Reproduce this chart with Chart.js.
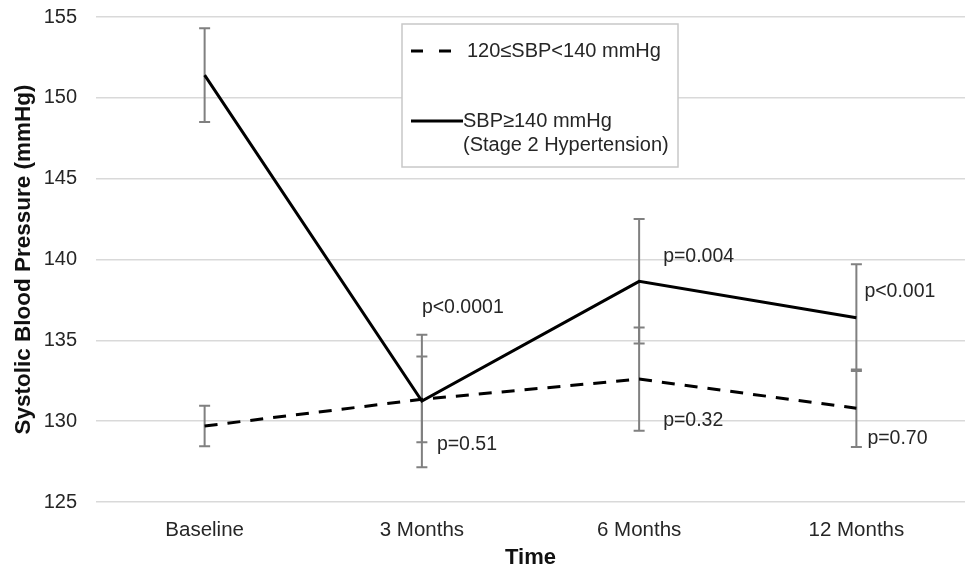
<!DOCTYPE html>
<html>
<head>
<meta charset="utf-8">
<script src="https://cdn.jsdelivr.net/npm/chart.js@4"></script>
<style>
html,body{margin:0;padding:0;background:#fff;}
#wrap{width:967px;height:571px;}
</style>
</head>
<body>
<div id="wrap"><canvas id="c" width="967" height="571"></canvas></div>
<script>
// ---- data ----
const categories = ['Baseline', '3 Months', '6 Months', '12 Months'];
const prehypLabel = '120≤SBP<140 mmHg';
const stage2Label = ['SBP≥140 mmHg', '(Stage 2 Hypertension)'];
const prehypValues = [129.7, 131.35, 132.6, 130.8];
const prehypErr = [1.25, 2.65, 3.2, 2.4];
const stage2Values = [151.4, 131.25, 138.65, 136.4];
const stage2Err = [2.9, 4.1, 3.85, 3.3];
const yTicks = [125, 130, 135, 140, 145, 150, 155];
const pTexts = ['p<0.0001', 'p=0.51', 'p=0.004', 'p=0.32', 'p<0.001', 'p=0.70'];
const pCategory = [1, 1, 2, 2, 3, 3];
const pValueY = [137.05, 128.55, 140.15, 130.05, 138.0, 128.95];

// ---- layout / style (not data) ----
const pOffsetX = [0, 15, 24, 24, 8, 11];
const FONT = "'Liberation Sans', Arial, sans-serif";
const TEXT = '#262626';

const errorBars = {
  id: 'errorBars',
  beforeDatasetsDraw(chart) {
    const {ctx, scales: {x, y}} = chart;
    const sets = [[prehypValues, prehypErr], [stage2Values, stage2Err]];
    ctx.save();
    ctx.strokeStyle = '#808080';
    ctx.lineWidth = 2;
    const cap = 5.5;
    sets.forEach(([vals, errs]) => {
      vals.forEach((v, i) => {
        const px = x.getPixelForValue(i);
        const yt = y.getPixelForValue(v + errs[i]);
        const yb = y.getPixelForValue(v - errs[i]);
        ctx.beginPath();
        ctx.moveTo(px, yt); ctx.lineTo(px, yb);
        ctx.moveTo(px - cap, yt); ctx.lineTo(px + cap, yt);
        ctx.moveTo(px - cap, yb); ctx.lineTo(px + cap, yb);
        ctx.stroke();
      });
    });
    ctx.restore();
  }
};

const annotations = {
  id: 'annotations',
  afterDraw(chart) {
    const {ctx, scales: {x, y}} = chart;
    ctx.save();
    ctx.font = '19.5px ' + FONT;
    ctx.fillStyle = TEXT;
    ctx.textAlign = 'left';
    ctx.textBaseline = 'middle';
    pTexts.forEach((t, i) => {
      ctx.fillText(t, x.getPixelForValue(pCategory[i]) + pOffsetX[i], y.getPixelForValue(pValueY[i]));
    });
    // legend box
    const L = 402, T = 24, R = 678, B = 167;
    ctx.fillStyle = '#ffffff';
    ctx.fillRect(L, T, R - L, B - T);
    ctx.strokeStyle = '#c8c8c8';
    ctx.lineWidth = 1.5;
    ctx.strokeRect(L, T, R - L, B - T);
    ctx.strokeStyle = '#000';
    ctx.lineWidth = 3;
    ctx.setLineDash([12, 16]);
    ctx.beginPath(); ctx.moveTo(411, 51); ctx.lineTo(452, 51); ctx.stroke();
    ctx.setLineDash([]);
    ctx.beginPath(); ctx.moveTo(411, 121); ctx.lineTo(463, 121); ctx.stroke();
    ctx.fillStyle = TEXT;
    ctx.font = '20px ' + FONT;
    ctx.fillText(prehypLabel, 467, 51);
    ctx.fillText(stage2Label[0], 463, 121);
    ctx.fillText(stage2Label[1], 463, 145);
    ctx.restore();
  }
};

new Chart(document.getElementById('c'), {
  type: 'line',
  data: {
    labels: categories,
    datasets: [
      {label: prehypLabel, data: prehypValues, borderColor: '#000', borderWidth: 3,
       borderDash: [13, 10], pointRadius: 0, tension: 0, fill: false},
      {label: stage2Label.join(' '), data: stage2Values, borderColor: '#000', borderWidth: 3,
       pointRadius: 0, tension: 0, fill: false}
    ]
  },
  options: {
    responsive: false,
    animation: false,
    devicePixelRatio: 1,
    layout: {padding: {top: 17, right: 2, left: 0, bottom: 0}},
    plugins: {legend: {display: false}, tooltip: {enabled: false}},
    scales: {
      x: {
        offset: true,
        grid: {display: false},
        border: {display: false},
        ticks: {font: {family: FONT, size: 20.5}, color: TEXT, padding: 8, maxRotation: 0},
        title: {display: true, text: 'Time', font: {family: FONT, size: 22, weight: 'bold'}, color: '#111', padding: {top: 0, bottom: 0}},
        afterFit(s) { s.height = 69; s.paddingLeft = 0; s.paddingRight = 0; }
      },
      y: {
        min: 125, max: 155,
        afterBuildTicks(s) { s.ticks = yTicks.map(v => ({value: v})); },
        grid: {color: '#d9d9d9', lineWidth: 1.5, drawTicks: false},
        border: {display: false},
        ticks: {font: {family: FONT, size: 20}, color: TEXT, padding: 19},
        title: {display: true, text: 'Systolic Blood Pressure (mmHg)', font: {family: FONT, size: 22.5, weight: 'bold'}, color: '#111', padding: {top: 10.5, bottom: 0}},
        afterFit(s) { s.width = 96; s.paddingTop = 0; s.paddingBottom = 0; }
      }
    }
  },
  plugins: [errorBars, annotations]
});
</script>
</body>
</html>
